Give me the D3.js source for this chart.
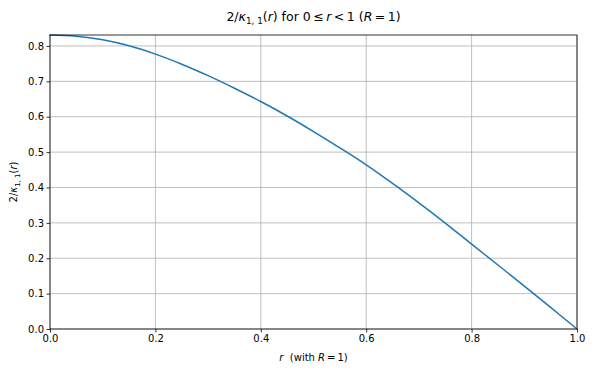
<!DOCTYPE html>
<html><head><meta charset="utf-8">
<script src="https://cdn.jsdelivr.net/npm/d3@7"></script>
<style>body{margin:0;background:#fff}svg{display:block}text{font-family:"DejaVu Sans",sans-serif;fill:#000}</style>
</head><body>
<svg id="c" width="595" height="371"></svg>
<script>
const rValues = [0,0.05,0.1,0.15,0.2,0.25,0.3,0.35,0.4,0.45,0.5,0.55,0.6,0.65,0.7,0.75,0.8,0.85,0.9,0.95,1.0];
const kappaValues = [0.831,0.8277,0.8175,0.8005,0.777,0.7485,0.716,0.6805,0.643,0.602,0.558,0.512,0.464,0.4115,0.3565,0.2995,0.240,0.181,0.1212,0.061,0.0];
const xTicks = [0,0.2,0.4,0.6,0.8,1.0];
const yTicks = [0,0.1,0.2,0.3,0.4,0.5,0.6,0.7,0.8];
const xDomain = [0,1];
const yDomain = [0,0.831];

const svg = d3.select("#c");
const m = {l:50, r:577, t:35, b:329};
const x = d3.scaleLinear().domain(xDomain).range([m.l, m.r]);
const y = d3.scaleLinear().domain(yDomain).range([m.b, m.t]);

// grid
svg.append("g").selectAll("line").data(xTicks).join("line")
  .attr("x1", d=>x(d)).attr("x2", d=>x(d)).attr("y1", m.t).attr("y2", m.b)
  .attr("stroke", "#b0b0b0").attr("stroke-width", 0.8);
svg.append("g").selectAll("line").data(yTicks).join("line")
  .attr("x1", m.l).attr("x2", m.r).attr("y1", d=>y(d)).attr("y2", d=>y(d))
  .attr("stroke", "#b0b0b0").attr("stroke-width", 0.8);

// line
const data = rValues.map((r,i)=>[r, kappaValues[i]]);
svg.append("path").datum(data)
  .attr("d", d3.line().x(d=>x(d[0])).y(d=>y(d[1])).curve(d3.curveCatmullRom))
  .attr("fill", "none").attr("stroke", "#1f77b4").attr("stroke-width", 1.5)
  .attr("stroke-linecap", "square");

// axes
const xAxis = d3.axisBottom(x).tickValues(xTicks).tickFormat(d3.format(".1f")).tickSizeInner(3.5).tickSizeOuter(0).tickPadding(2.5);
const yAxis = d3.axisLeft(y).tickValues(yTicks).tickFormat(d3.format(".1f")).tickSizeInner(3.5).tickSizeOuter(0).tickPadding(2.5);
const gx = svg.append("g").attr("transform", `translate(0,${m.b})`).call(xAxis);
const gy = svg.append("g").attr("transform", `translate(${m.l},0)`).call(yAxis);
[gx, gy].forEach(g => {
  g.select(".domain").remove();
  g.selectAll("line").attr("stroke", "#000").attr("stroke-width", 0.8);
  g.selectAll("text").attr("font-size", 10).attr("font-family", "DejaVu Sans").attr("fill", "#000");
});

// frame
svg.append("rect").attr("x", m.l).attr("y", m.t).attr("width", m.r - m.l).attr("height", m.b - m.t)
  .attr("fill", "none").attr("stroke", "#000").attr("stroke-width", 0.8);

// title
const title = svg.append("text").attr("x", (m.l + m.r)/2).attr("y", 21).attr("text-anchor", "middle").attr("font-size", 12.5);
title.append("tspan").text("2/");
title.append("tspan").attr("font-style", "italic").text("κ");
title.append("tspan").attr("font-size", 8.8).attr("dy", 3).text("1, 1");
title.append("tspan").attr("dy", -3).text("(");
title.append("tspan").attr("font-style", "italic").text("r");
title.append("tspan").text(") for 0\u2009≤\u2009");
title.append("tspan").attr("font-style", "italic").text("r");
title.append("tspan").text("\u2009<\u20091 (");
title.append("tspan").attr("font-style", "italic").text("R");
title.append("tspan").text("\u2009=\u20091)");

// x label
const xl = svg.append("text").attr("x", (m.l + m.r)/2).attr("y", 361).attr("text-anchor", "middle").attr("font-size", 10);
xl.append("tspan").attr("font-style", "italic").text("r");
xl.append("tspan").text("\u00a0 (with ");
xl.append("tspan").attr("font-style", "italic").text("R");
xl.append("tspan").text("\u2009=\u20091)");

// y label
const yl = svg.append("text").attr("transform", `translate(17,${(m.t + m.b)/2}) rotate(-90)`).attr("text-anchor", "middle").attr("font-size", 10);
yl.append("tspan").text("2/");
yl.append("tspan").attr("font-style", "italic").text("κ");
yl.append("tspan").attr("font-size", 7).attr("dy", 2.5).text("1, 1");
yl.append("tspan").attr("dy", -2.5).text("(");
yl.append("tspan").attr("font-style", "italic").text("r");
yl.append("tspan").text(")");
</script>
</body></html>
